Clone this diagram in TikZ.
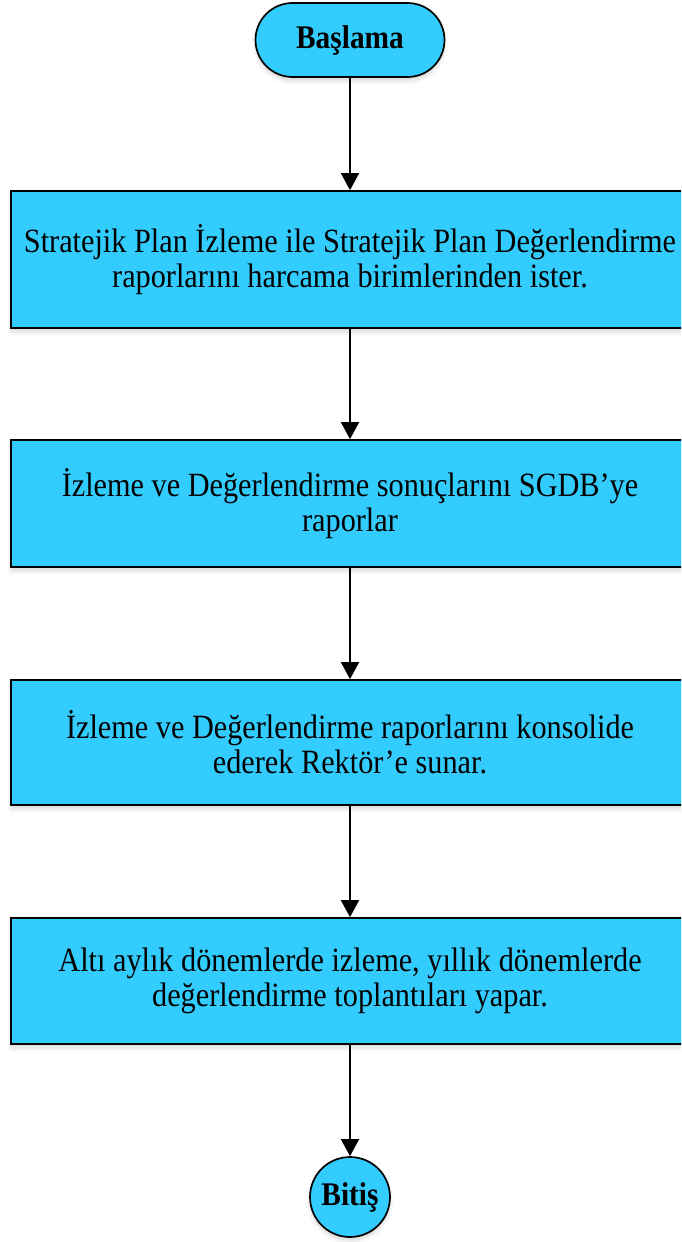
\documentclass[tikz,border=0pt]{standalone}
\usepackage{fontspec}
\setmainfont{Liberation Serif}[FakeStretch=0.89]
\usetikzlibrary{arrows.meta,shadows.blur}
\definecolor{boxblue}{RGB}{51,204,255}
\begin{document}
\begin{tikzpicture}[x=1pt,y=-1pt,
  base/.style={draw=black, line width=1.7pt, fill=boxblue,
    blur shadow={shadow xshift=0pt, shadow yshift=-4pt, shadow blur radius=4pt, shadow opacity=15}},
  terminal/.style={base, rounded corners=37pt, minimum width=189pt, minimum height=74pt,
    inner sep=0pt, font=\fontsize{33}{35}\selectfont\bfseries},
  process/.style={base, minimum width=678pt, inner sep=0pt, align=center,
    font=\fontsize{34}{35}\selectfont},
  endnode/.style={base, circle, minimum size=80pt, inner sep=0pt,
    font=\fontsize{33}{35}\selectfont\bfseries},
  flow/.style={-{Triangle[length=17pt,width=18pt]}, line width=1.7pt}]
\useasboundingbox (0,0) rectangle (681,1242);
\clip (0,0) rectangle (681,1242);
\node[terminal] (start) at (350,40) {Başlama};
\node[process, minimum height=137pt] (b1) at (350,259.5)
  {Stratejik Plan İzleme ile Stratejik Plan Değerlendirme\\raporlarını harcama birimlerinden ister.};
\node[process, minimum height=127pt] (b2) at (350,503.5)
  {İzleme ve Değerlendirme sonuçlarını SGDB’ye\\raporlar};
\node[process, minimum height=125pt] (b3) at (350,742.5)
  {İzleme ve Değerlendirme raporlarını konsolide\\ederek Rektör’e sunar.};
\node[process, minimum height=126pt] (b4) at (350,981)
  {Altı aylık dönemlerde izleme, yıllık dönemlerde\\değerlendirme toplantıları yapar.};
\node[endnode] (end) at (350,1197) {Bitiş};
\draw[flow] (start) -- (b1);
\draw[flow] (b1) -- (b2);
\draw[flow] (b2) -- (b3);
\draw[flow] (b3) -- (b4);
\draw[flow] (b4) -- (end);
\end{tikzpicture}
\end{document}
